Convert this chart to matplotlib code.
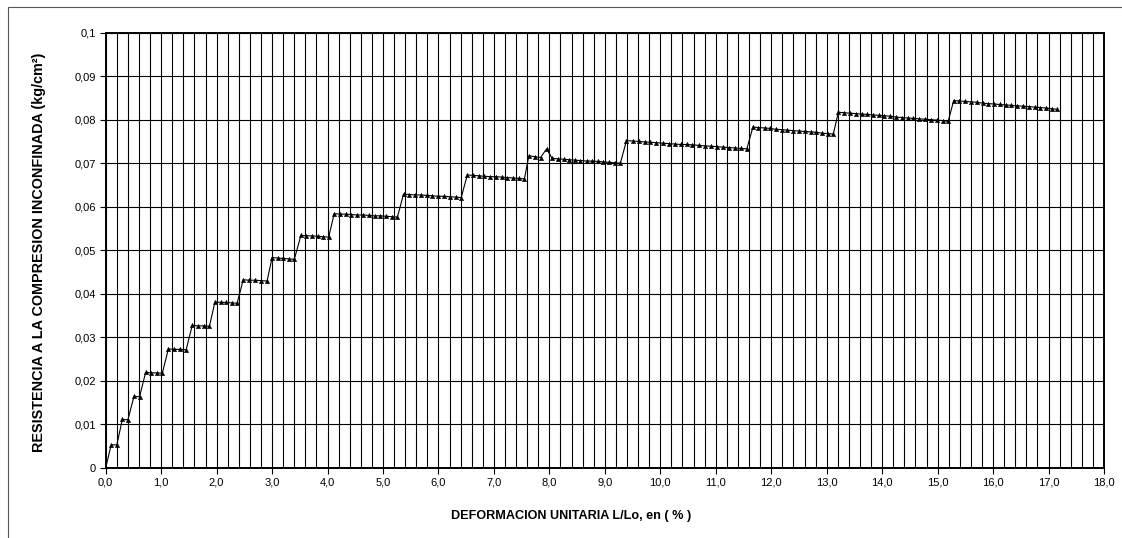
import matplotlib
matplotlib.use("Agg")
import matplotlib.pyplot as plt
from matplotlib.patches import Rectangle
from matplotlib.ticker import MultipleLocator, FixedLocator, FuncFormatter

plt.rcParams['font.family'] = ['Liberation Sans Narrow', 'Liberation Sans', 'DejaVu Sans']

# Deformación unitaria (%)
deformacion = [
    0.00,
    0.10, 0.20,
    0.30, 0.40,
    0.51, 0.61,
    0.72, 0.82, 0.92, 1.02,
    1.13, 1.24, 1.34, 1.45,
    1.56, 1.66, 1.77, 1.87,
    1.97, 2.07, 2.17, 2.27, 2.37,
    2.48, 2.59, 2.70, 2.80, 2.91,
    3.00, 3.10, 3.20, 3.30, 3.40,
    3.52, 3.62, 3.72, 3.82, 3.92, 4.02,
    4.12, 4.22, 4.33, 4.43, 4.53, 4.64, 4.74, 4.85, 4.95, 5.05, 5.16, 5.26,
    5.37, 5.47, 5.58, 5.68, 5.79, 5.89, 5.99, 6.10, 6.20, 6.31, 6.41,
    6.52, 6.62, 6.73, 6.83, 6.93, 7.04, 7.14, 7.24, 7.34, 7.45, 7.55,
    7.63, 7.74, 7.84,
    7.95,
    8.05, 8.15, 8.26, 8.36, 8.46, 8.56, 8.67, 8.77, 8.87, 8.97, 9.08, 9.18, 9.28,
    9.39, 9.50, 9.61, 9.72, 9.82, 9.93, 10.04, 10.15, 10.26, 10.37, 10.48,
    10.58, 10.69, 10.80, 10.91, 11.02, 11.13, 11.23, 11.34, 11.45, 11.56,
    11.67, 11.77, 11.88, 11.98, 12.08, 12.19, 12.29, 12.40, 12.50, 12.60,
    12.71, 12.81, 12.91, 13.02, 13.12,
    13.21, 13.31, 13.42, 13.52, 13.63, 13.73, 13.84, 13.94, 14.04, 14.15,
    14.25, 14.36, 14.46, 14.56, 14.67, 14.77, 14.88, 14.98, 15.09, 15.19,
    15.29, 15.39, 15.50, 15.60, 15.71, 15.81, 15.91, 16.02, 16.12, 16.23,
    16.33, 16.43, 16.54, 16.64, 16.75, 16.85, 16.95, 17.06, 17.16,
]

# Resistencia a la compresión inconfinada (kg/cm²)
resistencia = [
    0.0000,
    0.0053, 0.0052,
    0.0111, 0.0110,
    0.0164, 0.0163,
    0.0219, 0.0218, 0.0218, 0.0217,
    0.0273, 0.0272, 0.0272, 0.0271,
    0.0327, 0.0326, 0.0326, 0.0325,
    0.0381, 0.0380, 0.0380, 0.0379, 0.0378,
    0.0432, 0.0431, 0.0431, 0.0430, 0.0429,
    0.0483, 0.0482, 0.0481, 0.0480, 0.0479,
    0.0534, 0.0533, 0.0533, 0.0532, 0.0531, 0.0530,
    0.0584, 0.0583, 0.0583, 0.0582, 0.0581, 0.0581, 0.0580, 0.0579, 0.0579, 0.0578, 0.0577, 0.0576,
    0.0629, 0.0628, 0.0627, 0.0627, 0.0626, 0.0625, 0.0624, 0.0624, 0.0623, 0.0622, 0.0621,
    0.0673, 0.0672, 0.0671, 0.0670, 0.0669, 0.0669, 0.0668, 0.0667, 0.0666, 0.0665, 0.0664,
    0.0717, 0.0715, 0.0713,
    0.0733,
    0.0711, 0.0710, 0.0709, 0.0708, 0.0707, 0.0706, 0.0705, 0.0705, 0.0704, 0.0703, 0.0702, 0.0701, 0.0700,
    0.0752, 0.0751, 0.0750, 0.0749, 0.0748, 0.0747, 0.0746, 0.0745, 0.0744, 0.0743, 0.0743,
    0.0742, 0.0741, 0.0740, 0.0739, 0.0738, 0.0737, 0.0736, 0.0735, 0.0734, 0.0733,
    0.0783, 0.0782, 0.0781, 0.0780, 0.0778, 0.0777, 0.0776, 0.0775, 0.0774, 0.0773,
    0.0772, 0.0771, 0.0769, 0.0768, 0.0767,
    0.0817, 0.0816, 0.0815, 0.0814, 0.0813, 0.0812, 0.0811, 0.0810, 0.0809, 0.0808,
    0.0806, 0.0805, 0.0804, 0.0803, 0.0802, 0.0801, 0.0800, 0.0799, 0.0798, 0.0796,
    0.0844, 0.0843, 0.0842, 0.0841, 0.0840, 0.0838, 0.0837, 0.0836, 0.0835, 0.0834,
    0.0833, 0.0832, 0.0831, 0.0830, 0.0829, 0.0828, 0.0827, 0.0825, 0.0824,
]

x_ticks = [0, 1, 2, 3, 4, 5, 6, 7, 8, 9, 10, 11, 12, 13, 14, 15, 16, 17, 18]
y_ticks = [0, 0.01, 0.02, 0.03, 0.04, 0.05, 0.06, 0.07, 0.08, 0.09, 0.1]

W, H = 1122, 538
fig = plt.figure(figsize=(W / 100, H / 100), dpi=100)
fig.patch.set_facecolor('white')

# thin frame around the chart area
fig.add_artist(Rectangle((8 / W, -0.05), 1.2, 1 - 7 / H + 0.05,
                         transform=fig.transFigure, fill=False,
                         edgecolor='#555555', linewidth=0.8, clip_on=False))

ax = fig.add_axes([105.7 / W, (H - 467.7) / H, (1104 - 105.7) / W, (467.7 - 32.7) / H])

ax.plot(deformacion, resistencia, color='black', linewidth=0.8,
        marker='^', markersize=3.2, markerfacecolor='black',
        markeredgecolor='black', markeredgewidth=0.3, zorder=3)

ax.set_xlim(0, 18)
ax.set_ylim(0, 0.1)

ax.xaxis.set_major_locator(FixedLocator(x_ticks))
ax.xaxis.set_minor_locator(MultipleLocator(0.2))
ax.yaxis.set_major_locator(FixedLocator(y_ticks))

ax.xaxis.set_major_formatter(FuncFormatter(lambda v, p: f"{v:.1f}".replace('.', ',')))

def fmt_y(v, p):
    if abs(v) < 1e-12:
        return "0"
    s = f"{v:.2f}".rstrip('0')
    return s.replace('.', ',')

ax.yaxis.set_major_formatter(FuncFormatter(fmt_y))

ax.grid(True, which='both', axis='x', color='black', linewidth=0.8)
ax.grid(True, which='major', axis='y', color='black', linewidth=0.8)
ax.set_axisbelow(True)

ax.tick_params(axis='both', which='major', direction='out', length=4, width=0.8,
               labelsize=8, colors='black', pad=3)
ax.tick_params(axis='x', which='minor', length=0)

for s in ax.spines.values():
    s.set_linewidth(1.4)
    s.set_color('black')

ax.set_xlabel("DEFORMACION UNITARIA L/Lo, en ( % )", fontsize=9.1, fontweight='bold',
              family=['Liberation Sans', 'DejaVu Sans'], labelpad=15)
ax.xaxis.set_label_coords(0.466, -0.098)
ax.set_ylabel("RESISTENCIA A LA COMPRESION INCONFINADA (kg/cm²)", fontsize=10.4,
              fontweight='bold', family=['Liberation Sans', 'DejaVu Sans'])
ax.yaxis.set_label_coords(-0.060, 0.494)

fig.savefig("out.png", dpi=100)
